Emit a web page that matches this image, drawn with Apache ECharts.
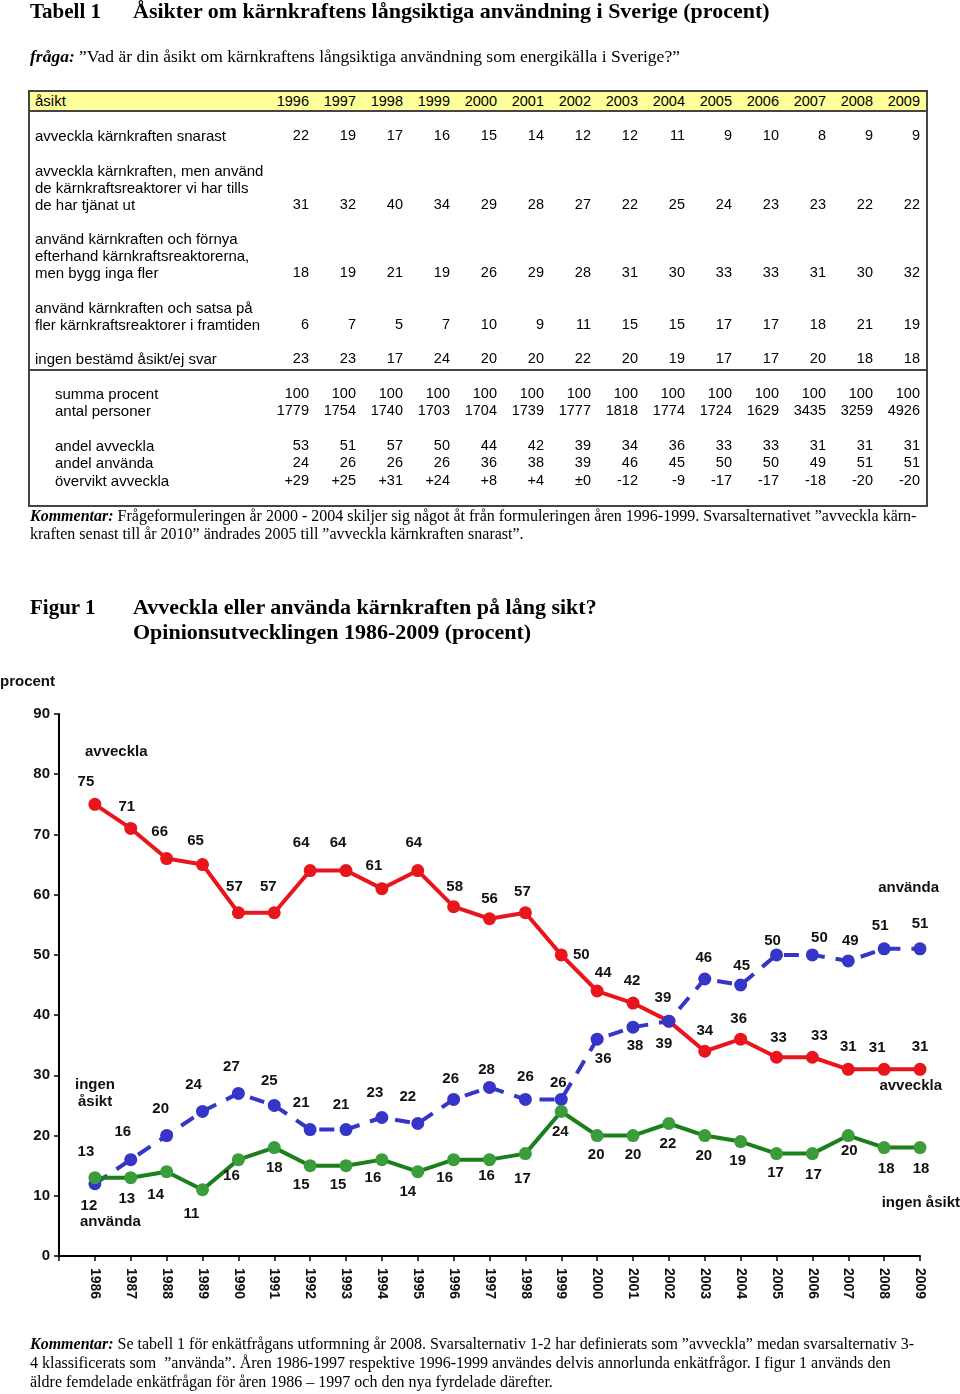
<!DOCTYPE html>
<html>
<head>
<meta charset="utf-8">
<script src="https://cdn.jsdelivr.net/npm/echarts@6/dist/echarts.min.js"></script>
<style>
  html, body { margin: 0; padding: 0; background: #fff; }
  body { width: 960px; height: 1394px; position: relative; overflow: hidden; }
  #chart { position: absolute; left: 0; top: 0; width: 960px; height: 1394px; z-index: 0; }
  .t { position: absolute; white-space: nowrap; z-index: 1; line-height: 1; color: #000; }
  .serif { font-family: "Liberation Serif", "Times New Roman", serif; }
  .sans { font-family: "Liberation Sans", Arial, sans-serif; font-size: 15px; }
  .num { font-family: "Liberation Sans", Arial, sans-serif; font-size: 14.5px; }
  .ln { position: absolute; background: #444; z-index: 1; }
</style>
</head>
<body>
<div id="chart"></div>
<script>
// ---------- Table data ----------
const tableYears = ['1996','1997','1998','1999','2000','2001','2002','2003','2004','2005','2006','2007','2008','2009'];
const rowSnarast   = [22,19,17,16,15,14,12,12,11,9,10,8,9,9];
const rowTjanatUt  = [31,32,40,34,29,28,27,22,25,24,23,23,22,22];
const rowFornya    = [18,19,21,19,26,29,28,31,30,33,33,31,30,32];
const rowSatsa     = [6,7,5,7,10,9,11,15,15,17,17,18,21,19];
const rowIngenSvar = [23,23,17,24,20,20,22,20,19,17,17,20,18,18];
const rowSumma     = [100,100,100,100,100,100,100,100,100,100,100,100,100,100];
const rowAntal     = [1779,1754,1740,1703,1704,1739,1777,1818,1774,1724,1629,3435,3259,4926];
const rowAndelAvv  = [53,51,57,50,44,42,39,34,36,33,33,31,31,31];
const rowAndelAnv  = [24,26,26,26,36,38,39,46,45,50,50,49,51,51];
const rowOvervikt  = ['+29','+25','+31','+24','+8','+4','±0','-12','-9','-17','-17','-18','-20','-20'];

// ---------- Figure data ----------
const years      = [1986,1987,1988,1989,1990,1991,1992,1993,1994,1995,1996,1997,1998,1999,2000,2001,2002,2003,2004,2005,2006,2007,2008,2009];
const avveckla   = [75,71,66,65,57,57,64,64,61,64,58,56,57,50,44,42,39,34,36,33,33,31,31,31];
const anvanda    = [12,16,20,24,27,25,21,21,23,22,26,28,26,26,36,38,39,46,45,50,50,49,51,51];
const ingenAsikt = [13,13,14,11,16,18,15,15,16,14,16,16,17,24,20,20,22,20,19,17,17,20,18,18];
const yTicks     = [0,10,20,30,40,50,60,70,80,90];

// label placement (offset from point centre), kept apart from values
const redLabelOff = [[-9,-22],[-4,-22],[-7,-27],[-7,-24],[-4,-26],[-6,-26],[-9,-28],[-8,-28],[-8,-23],[-4,-28],[1,-20],[0,-20],[-3,-21],[20,0],[6,-18],[-1,-22],[-6,-23],[0,-20],[-2,-20],[2,-19],[7,-21],[0,-22],[-7,-21],[0,-22]];
const blueLabelOff = [[-6,22],[-8,-28],[-6,-27],[-9,-27],[-7,-27],[-5,-25],[-9,-27],[-5,-25],[-7,-25],[-10,-27],[-3,-21],[-3,-18],[0,-23],[-3,-17],[6,20],[2,19],[-5,23],[-1,-21],[1,-19],[-4,-14],[7,-17],[2,-20],[-4,-23],[0,-25]];
const greenLabelOff = [[-9,-26],[-4,21],[-11,23],[-11,24],[-7,16],[0,20],[-9,19],[-8,19],[-9,18],[-10,20],[-9,18],[-3,16],[-3,25],[-1,20],[-1,19],[0,19],[-1,20],[-1,20],[-3,19],[-1,19],[1,21],[1,15],[2,21],[1,21]];

// ---------- HTML text ----------
function addText(html, x, y, cls, style) {
  const d = document.createElement('div');
  d.className = 't ' + cls;
  d.innerHTML = html;
  d.style.left = x + 'px';
  d.style.top = y + 'px';
  if (style) d.style.cssText += style;
  document.body.appendChild(d);
  return d;
}
function addLine(x, y, w, h) {
  const d = document.createElement('div');
  d.className = 'ln';
  d.style.left = x + 'px'; d.style.top = y + 'px';
  d.style.width = w + 'px'; d.style.height = h + 'px';
  document.body.appendChild(d);
}
// right aligned value
function addRight(txt, xr, yc) {
  const d = addText(txt, 0, yc - 7, 'num', 'width:60px;text-align:right;');
  d.style.left = (xr - 60) + 'px';
}

addText('<b>Tabell 1</b>', 30, 1, 'serif', 'font-size:21px;');
addText('<b>Åsikter om kärnkraftens långsiktiga användning i Sverige (procent)</b>', 133, 0, 'serif', 'font-size:22px;');
addText('<b><i>fråga:</i></b> ”Vad är din åsikt om kärnkraftens långsiktiga användning som energikälla i Sverige?”', 30, 48, 'serif', 'font-size:17.5px;');

// table box
const boxL = 28, boxR = 926;
const hdr = document.createElement('div');
hdr.style.cssText = 'position:absolute;left:' + boxL + 'px;top:90px;width:' + (boxR - boxL) + 'px;height:20px;background:#ffff99;z-index:0;';
document.body.appendChild(hdr);
addLine(boxL, 90, boxR - boxL + 2, 1.5);
addLine(boxL, 110, boxR - boxL + 2, 1.5);
addLine(boxL, 369, boxR - boxL + 2, 1.5);
addLine(boxL, 505, boxR - boxL + 2, 2);
addLine(boxL, 90, 1.5, 417);
addLine(boxR, 90, 1.5, 417);

const colRight = tableYears.map((_, i) => 309 + 47 * i);
addText('åsikt', 35, 93, 'sans');
tableYears.forEach((y, i) => addRight(y, colRight[i], 101));

function addRow(lines, yLast, values, xLabel) {
  lines.forEach((l, k) => addText(l, xLabel, yLast - 7 - 17 * (lines.length - 1 - k), 'sans'));
  values.forEach((v, i) => addRight(String(v), colRight[i], yLast));
}
addRow(['avveckla kärnkraften snarast'], 135, rowSnarast, 35);
addRow(['avveckla kärnkraften, men använd', 'de kärnkraftsreaktorer vi har tills', 'de har tjänat ut'], 204, rowTjanatUt, 35);
addRow(['använd kärnkraften och förnya', 'efterhand kärnkraftsreaktorerna,', 'men bygg inga fler'], 272, rowFornya, 35);
addRow(['använd kärnkraften och satsa på', 'fler kärnkraftsreaktorer i framtiden'], 324, rowSatsa, 35);
addRow(['ingen bestämd åsikt/ej svar'], 358, rowIngenSvar, 35);
addRow(['summa procent'], 393, rowSumma, 55);
addRow(['antal personer'], 410, rowAntal, 55);
addRow(['andel avveckla'], 445, rowAndelAvv, 55);
addRow(['andel använda'], 462, rowAndelAnv, 55);
addRow(['övervikt avveckla'], 480, rowOvervikt, 55);

addText('<b><i>Kommentar:</i></b> Frågeformuleringen år 2000 - 2004 skiljer sig något åt från formuleringen åren 1996-1999. Svarsalternativet ”avveckla kärn-', 30, 508, 'serif', 'font-size:16px;');
addText('kraften senast till år 2010” ändrades 2005 till ”avveckla kärnkraften snarast”.', 30, 526, 'serif', 'font-size:16px;');

addText('<b>Figur 1</b>', 30, 597, 'serif', 'font-size:21px;');
addText('<b>Avveckla eller använda kärnkraften på lång sikt?</b>', 133, 596, 'serif', 'font-size:22px;');
addText('<b>Opinionsutvecklingen 1986-2009 (procent)</b>', 133, 621, 'serif', 'font-size:22px;');

addText('<b><i>Kommentar:</i></b> Se tabell 1 för enkätfrågans utformning år 2008. Svarsalternativ 1-2 har definierats som ”avveckla” medan svarsalternativ 3-', 30, 1336, 'serif', 'font-size:16px;');
addText('4 klassificerats som &nbsp;”använda”. Åren 1986-1997 respektive 1996-1999 användes delvis annorlunda enkätfrågor. I figur 1 används den', 30, 1355, 'serif', 'font-size:16px;');
addText('äldre femdelade enkätfrågan för åren 1986 – 1997 och den nya fyrdelade därefter.', 30, 1374, 'serif', 'font-size:16px;');

// ---------- Chart ----------
const FONT = '"Liberation Sans", Arial, sans-serif';
function mk(values, offs) {
  return years.map((y, i) => ({ value: [y, values[i]], label: { offset: offs[i] } }));
}
const labelBase = { show: true, position: 'inside', formatter: p => p.value[1], fontFamily: FONT, fontWeight: 'bold', fontSize: 15, color: '#111' };

const chart = echarts.init(document.getElementById('chart'), null, { renderer: 'canvas' });
const txt = (text, x, y, align) => ({
  type: 'text', x: x, y: y, z: 100,
  style: { text: text, font: 'bold 15px ' + FONT, fill: '#111', align: align || 'left', verticalAlign: 'middle' }
});
chart.setOption({
  animation: false,
  backgroundColor: 'transparent',
  grid: { left: 59, right: 40, top: 714, bottom: 138, containLabel: false },
  xAxis: {
    type: 'value', min: 1985, max: 2009, interval: 1,
    axisLine: { show: true, lineStyle: { color: '#000', width: 2 } },
    axisTick: { show: true, length: 5, lineStyle: { color: '#000', width: 1.5 } },
    splitLine: { show: false },
    axisLabel: {
      rotate: -90, margin: 12, fontFamily: FONT, fontWeight: 'bold', fontSize: 14, color: '#111',
      formatter: v => (years.indexOf(v) >= 0 ? String(v) : '')
    }
  },
  yAxis: {
    type: 'value', min: yTicks[0], max: yTicks[yTicks.length - 1], interval: 10,
    axisLine: { show: true, lineStyle: { color: '#000', width: 2 } },
    axisTick: { show: true, length: 5, lineStyle: { color: '#000', width: 1.5 } },
    splitLine: { show: false },
    axisLabel: { margin: 9, fontFamily: FONT, fontWeight: 'bold', fontSize: 15, color: '#111' }
  },
  series: [
    {
      name: 'avveckla', type: 'line', data: mk(avveckla, redLabelOff), z: 2,
      symbol: 'circle', symbolSize: 13, showAllSymbol: true,
      lineStyle: { color: '#e8161c', width: 4 },
      itemStyle: { color: '#e8161c' },
      label: labelBase, emphasis: { disabled: true }
    },
    {
      name: 'använda', type: 'line', data: mk(anvanda, blueLabelOff), z: 3,
      symbol: 'circle', symbolSize: 13, showAllSymbol: true,
      lineStyle: { color: '#3535c8', width: 4, type: [15, 11], cap: 'butt' },
      itemStyle: { color: '#3535c8' },
      label: labelBase, emphasis: { disabled: true }
    },
    {
      name: 'ingen åsikt', type: 'line', data: mk(ingenAsikt, greenLabelOff), z: 4,
      symbol: 'circle', symbolSize: 13, showAllSymbol: true,
      lineStyle: { color: '#1b801b', width: 4 },
      itemStyle: { color: '#3a9c3a' },
      label: labelBase, emphasis: { disabled: true }
    }
  ],
  graphic: [
    txt('procent', 0, 682),
    txt('avveckla', 85, 752),
    txt('använda', 939, 888, 'right'),
    txt('ingen', 75, 1085),
    txt('åsikt', 78, 1102),
    txt('avveckla', 942, 1086, 'right'),
    txt('använda', 80, 1222),
    txt('ingen åsikt', 960, 1203, 'right')
  ]
});
</script>
</body>
</html>
